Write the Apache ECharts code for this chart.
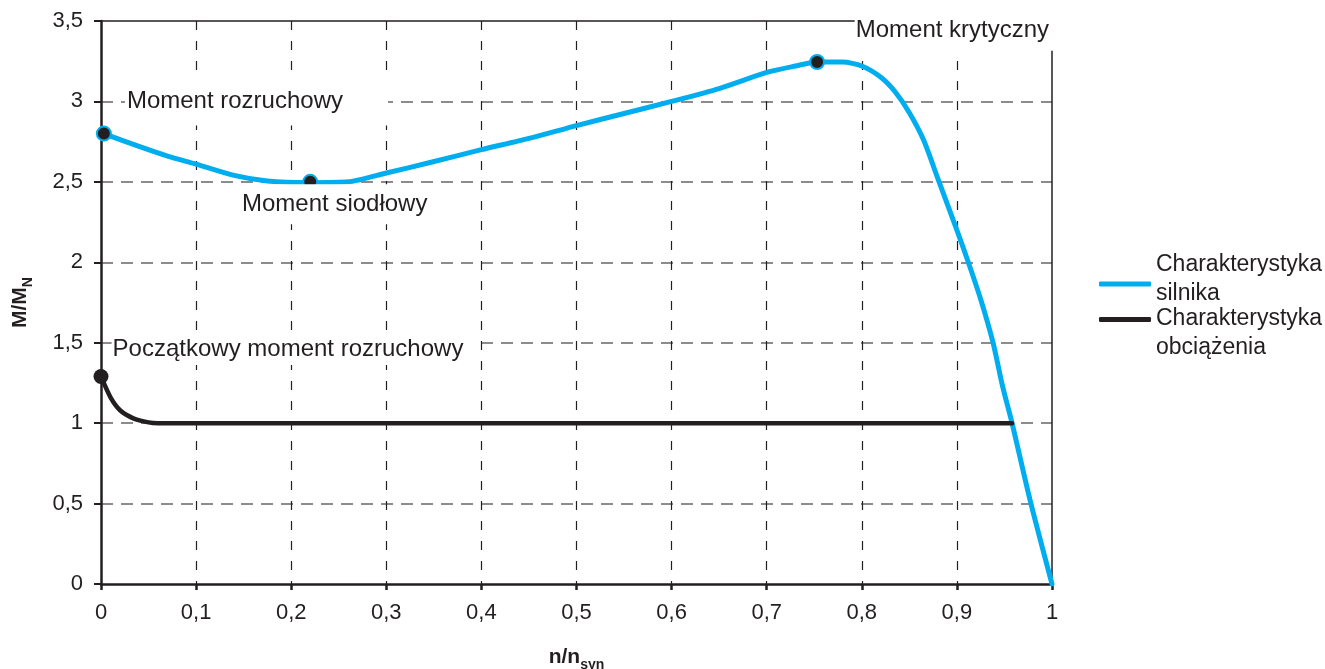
<!DOCTYPE html>
<html>
<head>
<meta charset="utf-8">
<script src="https://cdn.jsdelivr.net/npm/echarts@6/dist/echarts.min.js"></script>
<style>
  html, body { margin: 0; padding: 0; background: #ffffff; }
  #chart { width: 1325px; height: 669px; }
</style>
</head>
<body>
<div id="chart"></div>
<script>
// ---- data ----
const xTickLabels = ['0', '0,1', '0,2', '0,3', '0,4', '0,5', '0,6', '0,7', '0,8', '0,9', '1'];
const yTickLabels = ['0', '0,5', '1', '1,5', '2', '2,5', '3', '3,5'];

const motorName = 'Charakterystyka\nsilnika';
const loadName = 'Charakterystyka\nobciążenia';

// motor torque characteristic (n/nsyn, M/MN)
const motorN = [0.003, 0.04, 0.07, 0.1, 0.14, 0.175, 0.22, 0.26, 0.3, 0.346, 0.4, 0.45, 0.5, 0.55, 0.6, 0.65, 0.7, 0.73, 0.753, 0.78, 0.8, 0.82, 0.835, 0.85, 0.865, 0.88, 0.9, 0.912, 0.925, 0.938, 0.948, 0.958, 0.977, 1.0];
const motorM = [2.8, 2.72, 2.66, 2.61, 2.54, 2.505, 2.495, 2.5, 2.555, 2.62, 2.70, 2.77, 2.85, 2.925, 3.0, 3.08, 3.18, 3.22, 3.245, 3.245, 3.22, 3.15, 3.06, 2.93, 2.76, 2.52, 2.2, 2.0, 1.77, 1.5, 1.23, 1.0, 0.52, 0.0];

// load torque characteristic
const loadN = [0, 0.01, 0.02, 0.034, 0.05, 0.06, 0.1, 0.5, 0.9, 0.958];
const loadM = [1.29, 1.16, 1.08, 1.03, 1.005, 1.0, 1.0, 1.0, 1.0, 1.0];

// highlighted points on the motor characteristic
const keyN = [0.003, 0.22, 0.753];
const keyM = [2.8, 2.5, 3.245];
const keyNames = ['Moment rozruchowy', 'Moment siodłowy', 'Moment krytyczny'];

// highlighted point on the load characteristic
const startN = [0];
const startM = [1.29];
const startNames = ['Początkowy moment rozruchowy'];

// ---- chart ----
const FONT = '"Liberation Sans", Arial, Helvetica, sans-serif';
const TXT = '#231f20';
const BLUE = '#00aeef';

const zip = (a, b) => a.map((v, i) => [v, b[i]]);

// label box placement for each annotated point (style only)
const keyLabelStyles = [
  { offset: [152.6, -32], padding: [4, 45, 20, 2] },
  { offset: [24.5, 22.5], padding: [4, 4, 12, 4] },
  { offset: [138.8, -31.5], padding: [6, 8, 10.5, 1] }
];
const startLabelStyles = [
  { offset: [193, -27.5], padding: [0, 13, 8, 1] }
];

function labelFor(st) {
  return {
    show: true,
    position: 'inside',
    align: 'center',
    verticalAlign: 'middle',
    offset: st.offset,
    padding: st.padding,
    backgroundColor: '#ffffff',
    color: TXT,
    opacity: 1,
    fontSize: 24,
    fontFamily: FONT,
    formatter: p => p.data.name
  };
}

const chart = echarts.init(document.getElementById('chart'), null, { renderer: 'canvas' });

const axisNameRich = {
  a: { fontSize: 21, fontWeight: 'bold', color: TXT, fontFamily: FONT, lineHeight: 30, verticalAlign: 'middle' },
  b: { fontSize: 14, fontWeight: 'bold', color: TXT, fontFamily: FONT, lineHeight: 30, verticalAlign: 'bottom' }
};

const legendRich = {
  t: { color: TXT, fontSize: 23, lineHeight: 29, fontFamily: FONT },
  s1: { fontSize: 8, lineHeight: 9 },
  s2: { fontSize: 10, lineHeight: 27 }
};

function legendItem(name, top, lines) {
  return {
    data: [name],
    left: 1099, top: top, padding: 0,
    orient: 'vertical',
    icon: 'roundRect', itemWidth: 52, itemHeight: 5,
    selectedMode: false,
    formatter: lines,
    textStyle: { color: TXT, fontSize: 23, fontFamily: FONT, rich: legendRich }
  };
}

chart.setOption({
  animation: false,
  backgroundColor: '#ffffff',
  textStyle: { fontFamily: FONT },
  grid: { left: 101, right: 273, top: 21, bottom: 85, containLabel: false, outerBoundsMode: 'none' },
  legend: [
    legendItem(motorName, 253.5, n => n.split('\n').map(s => '{t|' + s + '}').join('\n') + '\n{s1| }'),
    legendItem(loadName, 285.5, n => '{s2| }\n' + n.split('\n').map(s => '{t|' + s + '}').join('\n'))
  ],
  xAxis: [
    {
      type: 'value', min: 0, max: 1, interval: 0.1, position: 'bottom',
      name: '{a|n/n}{b|syn}', nameLocation: 'middle', nameGap: 58,
      nameTextStyle: { rich: axisNameRich },
      axisLine: { show: true, onZero: false, lineStyle: { color: TXT, width: 2.5 } },
      axisTick: { show: true, length: 6, lineStyle: { color: TXT, width: 2.5 } },
      axisLabel: {
        color: TXT, fontSize: 22, fontFamily: FONT, margin: 18,
        formatter: v => xTickLabels[Math.round(v * 10)]
      },
      splitLine: {
        show: true, showMinLine: false, showMaxLine: false,
        lineStyle: { color: TXT, width: 1.2, type: [9, 11] }
      }
    },
    {
      type: 'value', min: 0, max: 1, interval: 0.1, position: 'top',
      axisLine: { show: true, onZero: false, lineStyle: { color: TXT, width: 1.5 } },
      axisTick: { show: false }, axisLabel: { show: false }, splitLine: { show: false }
    }
  ],
  yAxis: [
    {
      type: 'value', min: 0, max: 3.5, interval: 0.5, position: 'left',
      name: '{a|M/M}{b|N}', nameLocation: 'middle', nameGap: 66, nameRotate: 90,
      nameTextStyle: { rich: axisNameRich },
      axisLine: { show: true, onZero: false, lineStyle: { color: TXT, width: 2.5 } },
      axisTick: { show: true, length: 7, lineStyle: { color: TXT, width: 2 } },
      axisLabel: {
        color: TXT, fontSize: 22, fontFamily: FONT, margin: 18,
        formatter: v => yTickLabels[Math.round(v * 2)]
      },
      splitLine: {
        show: true, showMinLine: false, showMaxLine: false,
        lineStyle: { color: '#8c8c8c', width: 2, type: [12, 8] }
      }
    },
    {
      type: 'value', min: 0, max: 3.5, interval: 0.5, position: 'right',
      axisLine: { show: true, onZero: false, lineStyle: { color: TXT, width: 1.5 } },
      axisTick: { show: false }, axisLabel: { show: false }, splitLine: { show: false }
    }
  ],
  series: [
    {
      name: motorName, type: 'line', xAxisIndex: 0, yAxisIndex: 0,
      data: zip(motorN, motorM),
      smooth: 0.25,
      symbol: 'none',
      lineStyle: { color: BLUE, width: 5, cap: 'round', join: 'round' },
      itemStyle: { color: BLUE },
      z: 3
    },
    {
      name: loadName, type: 'line', xAxisIndex: 0, yAxisIndex: 0,
      data: zip(loadN, loadM),
      smooth: 0.25,
      symbol: 'none',
      lineStyle: { color: TXT, width: 4.5, cap: 'round', join: 'round' },
      itemStyle: { color: TXT },
      z: 4
    },
    {
      name: 'Punkty silnika', type: 'scatter', xAxisIndex: 0, yAxisIndex: 0,
      symbol: 'circle', symbolSize: 14,
      itemStyle: { color: TXT, borderColor: BLUE, borderWidth: 2, opacity: 1 },
      data: keyN.map((n, i) => ({ value: [n, keyM[i]], name: keyNames[i], label: labelFor(keyLabelStyles[i]) })),
      z: 6
    },
    {
      name: 'Punkt obciążenia', type: 'scatter', xAxisIndex: 0, yAxisIndex: 0,
      symbol: 'circle', symbolSize: 15,
      itemStyle: { color: TXT, opacity: 1 },
      data: startN.map((n, i) => ({ value: [n, startM[i]], name: startNames[i], label: labelFor(startLabelStyles[i]) })),
      z: 6
    }
  ]
});
</script>
</body>
</html>
